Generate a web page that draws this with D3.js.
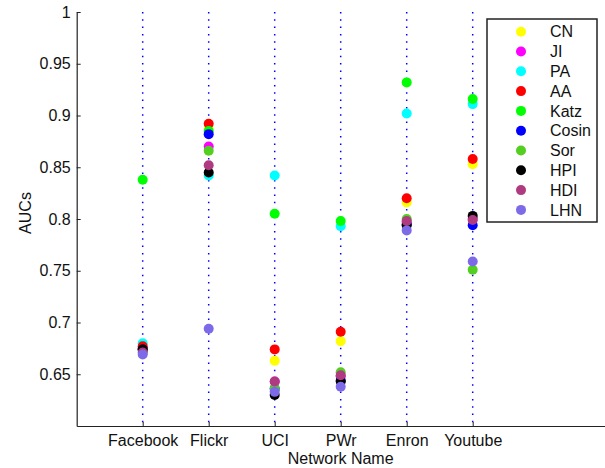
<!DOCTYPE html>
<html>
<head>
<meta charset="utf-8">
<script src="https://cdn.jsdelivr.net/npm/d3@7"></script>
<style>
  body { margin: 0; background: #fff; }
  svg { display: block; font-family: "Liberation Sans", Arial, sans-serif; }
</style>
</head>
<body>
<svg id="chart" width="605" height="468"></svg>
<script>
// network names on the x axis
var networks = ["Facebook", "Flickr", "UCI", "PWr", "Enron", "Youtube"];
var methods = ["CN", "JI", "PA", "AA", "Katz", "Cosin", "Sor", "HPI", "HDI", "LHN"];
var colors = ["#ffff00", "#ff00ff", "#00ffff", "#ff0000", "#00ff00", "#0000ff", "#52cf1f", "#000000", "#b03a80", "#7d6ae8"];
var yTicks = [0.65, 0.7, 0.75, 0.8, 0.85, 0.9, 0.95, 1];

// AUC per method, in network order
var CN    = [0.675, 0.887, 0.663, 0.682, 0.816, 0.853];
var JI    = [0.675, 0.870, 0.643, 0.648, 0.797, 0.800];
var PA    = [0.680, 0.842, 0.842, 0.793, 0.902, 0.911];
var AA    = [0.677, 0.892, 0.674, 0.691, 0.820, 0.858];
var Katz  = [0.838, 0.885, 0.805, 0.798, 0.932, 0.916];
var Cosin = [0.674, 0.882, 0.636, 0.644, 0.795, 0.794];
var Sor   = [0.673, 0.866, 0.636, 0.652, 0.800, 0.751];
var HPI   = [0.674, 0.845, 0.630, 0.643, 0.794, 0.803];
var HDI   = [0.671, 0.852, 0.643, 0.649, 0.798, 0.799];
var LHN   = [0.669, 0.694, 0.633, 0.638, 0.789, 0.759];
var values = [CN, JI, PA, AA, Katz, Cosin, Sor, HPI, HDI, LHN];

var svg = d3.select("#chart");
var xScale = d3.scaleLinear().domain([0, 8]).range([76.7, 604.7]);
var yScale = d3.scaleLinear().domain([0.6, 1]).range([426, 12]);

// blue dotted guide per network
svg.append("g").selectAll("line")
  .data(networks)
  .enter().append("line")
  .attr("x1", function(d, i) { return xScale(i + 1); })
  .attr("x2", function(d, i) { return xScale(i + 1); })
  .attr("y1", yScale(1))
  .attr("y2", yScale(0.6))
  .attr("stroke", "#0000ff")
  .attr("stroke-width", 1.5)
  .attr("stroke-dasharray", "1.5 5.8");

var yAxis = d3.axisLeft(yScale)
  .tickValues(yTicks)
  .tickFormat(function(d) { return String(+d.toFixed(2)); })
  .tickSizeInner(-4).tickSizeOuter(0).tickPadding(6);
var gy = svg.append("g").attr("transform", "translate(" + xScale(0) + ",0)").call(yAxis);

var xAxis = d3.axisBottom(xScale)
  .tickValues(d3.range(1, networks.length + 1))
  .tickFormat(function(d) { return networks[d - 1]; })
  .tickSizeInner(-4).tickSizeOuter(0).tickPadding(9);
var gx = svg.append("g").attr("transform", "translate(0," + yScale(0.6) + ")").call(xAxis);

[gx, gy].forEach(function(g) {
  g.selectAll("text").attr("font-size", 16).attr("font-family", "Liberation Sans, Arial, sans-serif").attr("fill", "#111");
  g.select(".domain").attr("stroke", "#222").attr("stroke-width", 1.2);
  g.selectAll(".tick line").attr("stroke", "#222");
});

svg.append("text")
  .attr("x", xScale(4))
  .attr("y", 464)
  .attr("text-anchor", "middle")
  .attr("font-size", 16).attr("fill", "#111")
  .text("Network Name");

svg.append("text")
  .attr("transform", "translate(31,213) rotate(-90)")
  .attr("text-anchor", "middle")
  .attr("font-size", 16).attr("fill", "#111")
  .text("AUCs");

// markers, one series per method
methods.forEach(function(m, k) {
  svg.append("g").selectAll("circle")
    .data(values[k])
    .enter().append("circle")
    .attr("cx", function(d, i) { return xScale(i + 1); })
    .attr("cy", function(d) { return yScale(d); })
    .attr("r", 5)
    .attr("fill", colors[k]);
});

// legend
var legend = svg.append("g");
legend.append("rect")
  .attr("x", 487).attr("y", 19).attr("width", 110).attr("height", 203)
  .attr("fill", "#fff").attr("stroke", "#222").attr("stroke-width", 1.5);
var rows = legend.selectAll("g.row")
  .data(methods)
  .enter().append("g")
  .attr("class", "row")
  .attr("transform", function(d, i) { return "translate(0," + (31.7 + i * 19.8) + ")"; });
rows.append("circle")
  .attr("cx", 521).attr("cy", 0).attr("r", 5)
  .attr("fill", function(d, i) { return colors[i]; });
rows.append("text")
  .attr("x", 550).attr("y", 0).attr("dy", "0.36em")
  .attr("font-size", 16).attr("fill", "#111")
  .text(function(d) { return d; });
</script>
</body>
</html>
